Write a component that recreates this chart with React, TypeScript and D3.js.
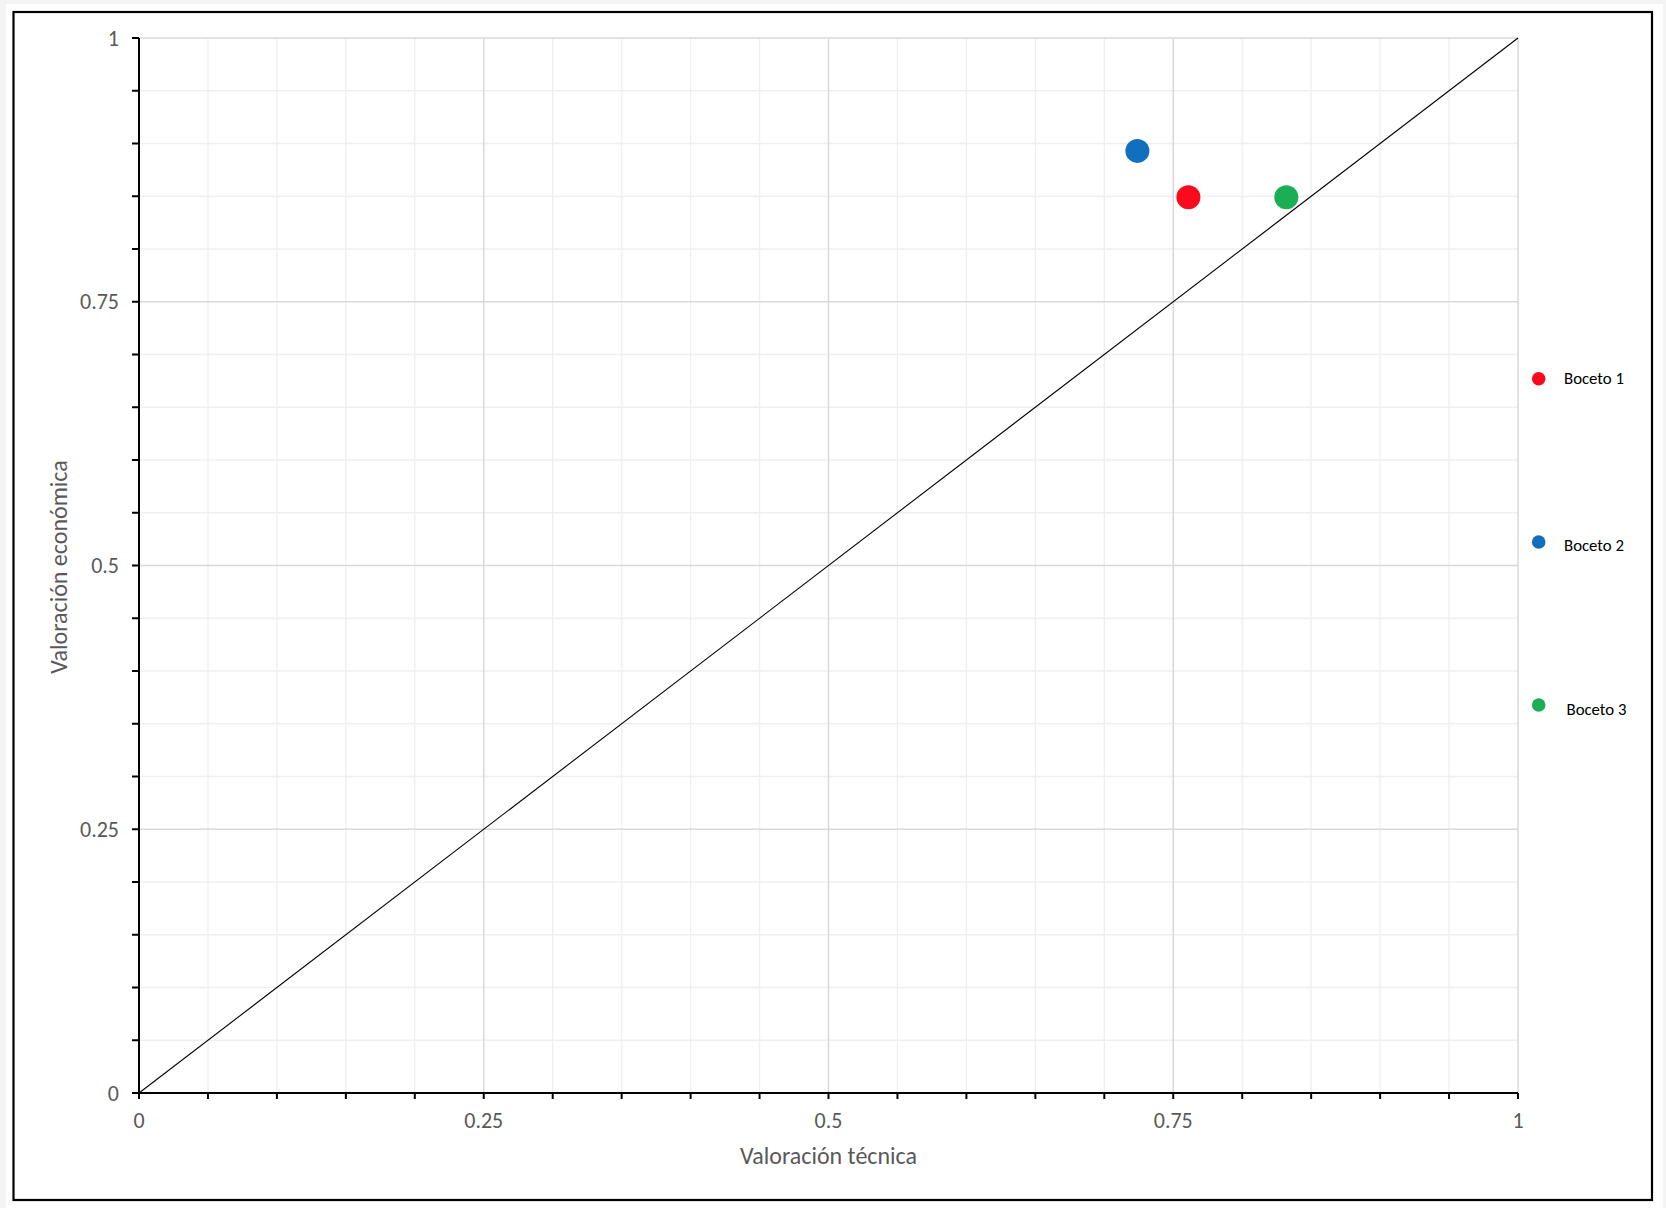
import React from "react";
import * as d3 from "d3";

const seriesNames = ["Boceto 1", "Boceto 2", "Boceto 3"];
const seriesColors = ["#fb0a1e", "#1070be", "#1baf55"];
const techValues = [0.761, 0.724, 0.832];
const econValues = [0.849, 0.893, 0.849];
const majorTicks = [0, 0.25, 0.5, 0.75, 1];
const majorTickLabels = ["0", "0.25", "0.5", "0.75", "1"];
const minorTicks = d3.range(0, 21).map((i) => i / 20);
const diagonal: [number, number][] = [[0, 0], [1, 1]];
const xTitle = "Valoración técnica";
const yTitle = "Valoración económica";

const W = 1666;
const H = 1208;
const left = 139;
const right = 1518;
const top = 38;
const bottom = 1093;
const FONT = "Carlito, Calibri, Lato, 'Open Sans', sans-serif";

export default function App() {
  const x = d3.scaleLinear().domain([0, 1]).range([left, right]);
  const y = d3.scaleLinear().domain([0, 1]).range([bottom, top]);
  const line = d3.line<[number, number]>().x((d) => x(d[0])).y((d) => y(d[1]));
  const isMajor = (v: number) => majorTicks.some((m) => Math.abs(m - v) < 1e-6);

  const legendY = [378.7, 542, 705];
  const legendTextX = [1564, 1564, 1566.5];
  const legendTextY = [383.5, 550.5, 714.5];

  return (
    <svg width={W} height={H} style={{ position: "absolute", left: 0, top: 0 }}>
      <rect x={0} y={0} width={W} height={H} fill="#f4f4f4" />
      <rect x={6} y={4} width={1657} height={1204} fill="#ffffff" />
      <rect x={13.5} y={12} width={1638.5} height={1188} fill="#ffffff" stroke="#000" strokeWidth={2.2} />

      {/* minor grid */}
      {minorTicks.filter((v) => !isMajor(v)).map((v, i) => (
        <g key={"mg" + i}>
          <line x1={x(v)} x2={x(v)} y1={top} y2={bottom} stroke="#efefef" strokeWidth={1.3} />
          <line x1={left} x2={right} y1={y(v)} y2={y(v)} stroke="#efefef" strokeWidth={1.3} />
        </g>
      ))}
      {/* major grid */}
      {majorTicks.filter((v) => v > 0).map((v, i) => (
        <g key={"MG" + i}>
          <line x1={x(v)} x2={x(v)} y1={top} y2={bottom} stroke="#d9d9d9" strokeWidth={1.5} />
          <line x1={left} x2={right} y1={y(v)} y2={y(v)} stroke="#d9d9d9" strokeWidth={1.5} />
        </g>
      ))}

      {/* diagonal */}
      <path d={line(diagonal) || ""} fill="none" stroke="#000" strokeWidth={1.1} />

      {/* axes */}
      <line x1={left} x2={left} y1={top} y2={bottom} stroke="#000" strokeWidth={2} />
      <line x1={left} x2={right} y1={bottom} y2={bottom} stroke="#000" strokeWidth={2} />
      {minorTicks.map((v, i) => (
        <g key={"t" + i}>
          <line x1={left - 7} x2={left} y1={y(v)} y2={y(v)} stroke="#000" strokeWidth={2} />
          <line x1={x(v)} x2={x(v)} y1={bottom} y2={bottom + 6} stroke="#000" strokeWidth={2} />
        </g>
      ))}
      {majorTicks.map((v, i) => (
        <g key={"l" + i} fontFamily={FONT} fontSize={22} fill="#595959">
          <text x={left - 20} y={y(v)} dy="0.35em" textAnchor="end">{majorTickLabels[i]}</text>
          <text x={x(v)} y={bottom + 27} dy="0.35em" textAnchor="middle">{majorTickLabels[i]}</text>
        </g>
      ))}

      <text x={(left + right) / 2} y={1156} dy="0.35em" textAnchor="middle" fontFamily={FONT} fontSize={24} fill="#595959">{xTitle}</text>
      <text transform={`translate(59,${567}) rotate(-90)`} dy="0.35em" textAnchor="middle" fontFamily={FONT} fontSize={24} fill="#595959">{yTitle}</text>

      {/* points */}
      {seriesNames.map((n, i) => (
        <circle key={"p" + i} cx={x(techValues[i])} cy={y(econValues[i])} r={12} fill={seriesColors[i]} />
      ))}

      {/* legend */}
      {seriesNames.map((n, i) => (
        <g key={"lg" + i}>
          <circle cx={1538.7} cy={legendY[i]} r={6.8} fill={seriesColors[i]} />
          <text x={legendTextX[i]} y={legendTextY[i]} fontFamily={FONT} fontSize={16.8} fill="#000">{n}</text>
        </g>
      ))}
    </svg>
  );
}
